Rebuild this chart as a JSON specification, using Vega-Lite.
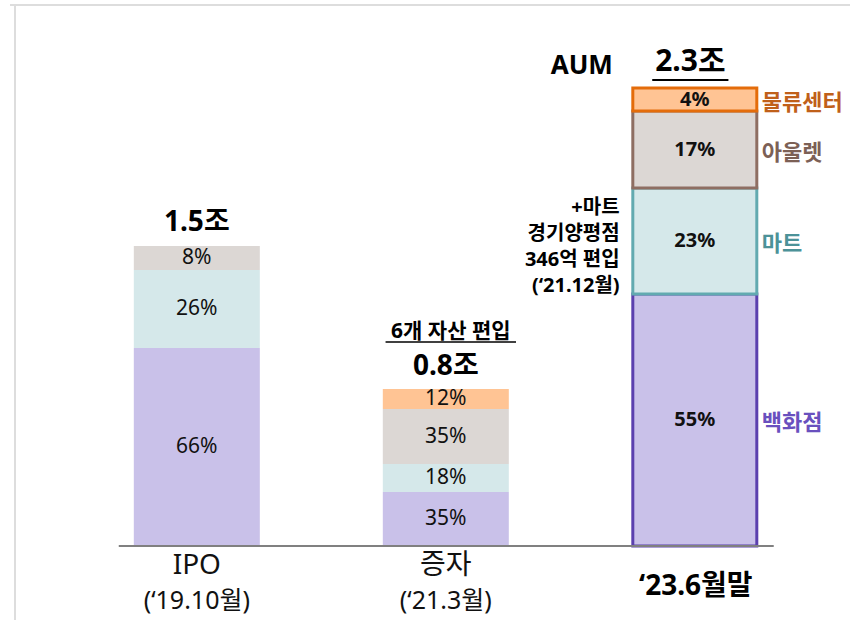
{
  "$schema": "https://vega.github.io/schema/vega-lite/v6.json",
  "width": 840,
  "height": 615,
  "autosize": {"type": "none"},
  "padding": {"left": 10, "top": 5, "right": 0, "bottom": 0},
  "background": "white",
  "config": {"view": {"stroke": null}, "text": {"font": "'Noto Sans', 'Noto Sans CJK KR'", "color": "#000000"}},
  "datasets": {
    "bars": [
      {"idx": 0, "period": "IPO", "type": "백화점", "ord": 1, "pct": "66%", "amt": 0.99},
      {"idx": 0, "period": "IPO", "type": "마트", "ord": 2, "pct": "26%", "amt": 0.39},
      {"idx": 0, "period": "IPO", "type": "아울렛", "ord": 3, "pct": "8%", "amt": 0.12},
      {"idx": 1, "period": "증자", "type": "백화점", "ord": 1, "pct": "35%", "amt": 0.27},
      {"idx": 1, "period": "증자", "type": "마트", "ord": 2, "pct": "18%", "amt": 0.14},
      {"idx": 1, "period": "증자", "type": "아울렛", "ord": 3, "pct": "35%", "amt": 0.275},
      {"idx": 1, "period": "증자", "type": "물류센터", "ord": 4, "pct": "12%", "amt": 0.1},
      {"idx": 2, "period": "23.6월말", "type": "백화점", "ord": 1, "pct": "55%", "amt": 1.26},
      {"idx": 2, "period": "23.6월말", "type": "마트", "ord": 2, "pct": "23%", "amt": 0.53},
      {"idx": 2, "period": "23.6월말", "type": "아울렛", "ord": 3, "pct": "17%", "amt": 0.385},
      {"idx": 2, "period": "23.6월말", "type": "물류센터", "ord": 4, "pct": "4%", "amt": 0.115}
    ]
  },
  "layer": [
    {
      "data": {"values": [{"frame": "top"}]},
      "mark": {"type": "rule", "color": "#dddddd", "strokeWidth": 2},
      "encoding": {
        "y": {"datum": 2.705, "type": "quantitative", "scale": {"domain": [-0.37, 2.705], "nice": false, "zero": false}, "axis": null}
      }
    },
    {
      "data": {"values": [{"frame": "left"}]},
      "mark": {"type": "rule", "color": "#dddddd", "strokeWidth": 2},
      "encoding": {
        "x": {"datum": -0.7302, "type": "quantitative", "scale": {"domain": [-0.7302, 2.6032], "nice": false, "zero": false}, "axis": null}
      }
    },
    {
      "data": {"name": "bars"},
      "transform": [
        {"filter": "datum.idx < 2"},
        {"stack": "amt", "groupby": ["idx"], "sort": [{"field": "ord", "order": "ascending"}], "as": ["y0", "y1"]}
      ],
      "mark": {"type": "bar", "width": 126},
      "encoding": {
        "x": {"field": "idx", "type": "quantitative", "axis": null},
        "y": {"field": "y0", "type": "quantitative", "axis": null},
        "y2": {"field": "y1"},
        "color": {"field": "type", "type": "nominal", "legend": null,
                  "scale": {"domain": ["백화점", "마트", "아울렛", "물류센터"], "range": ["#C9C1E9", "#D5E8EA", "#DCD7D4", "#FFC494"]}}
      }
    },
    {
      "data": {"name": "bars"},
      "transform": [
        {"filter": "datum.idx == 2"},
        {"stack": "amt", "groupby": ["idx"], "sort": [{"field": "ord", "order": "ascending"}], "as": ["y0", "y1"]}
      ],
      "mark": {"type": "bar", "width": 124, "strokeWidth": 3},
      "encoding": {
        "x": {"field": "idx", "type": "quantitative", "axis": null},
        "y": {"field": "y0", "type": "quantitative", "axis": null},
        "y2": {"field": "y1"},
        "color": {"field": "type", "type": "nominal", "legend": null},
        "stroke": {"field": "type", "type": "nominal", "legend": null,
                   "scale": {"domain": ["백화점", "마트", "아울렛", "물류센터"], "range": ["#5B40AE", "#62AAB0", "#8E6E62", "#E46C0A"]}}
      }
    },
    {
      "data": {"name": "bars"},
      "transform": [
        {"filter": "datum.idx < 2"},
        {"stack": "amt", "groupby": ["idx"], "sort": [{"field": "ord", "order": "ascending"}], "as": ["y0", "y1"]},
        {"calculate": "(datum.y0 + datum.y1) / 2", "as": "mid"}
      ],
      "mark": {"type": "text", "fontSize": 21, "baseline": "middle", "color": "#111111"},
      "encoding": {
        "x": {"field": "idx", "type": "quantitative", "axis": null},
        "y": {"field": "mid", "type": "quantitative", "axis": null},
        "text": {"field": "pct"}
      }
    },
    {
      "data": {"name": "bars"},
      "transform": [
        {"filter": "datum.idx == 2"},
        {"stack": "amt", "groupby": ["idx"], "sort": [{"field": "ord", "order": "ascending"}], "as": ["y0", "y1"]},
        {"calculate": "(datum.y0 + datum.y1) / 2", "as": "mid"}
      ],
      "mark": {"type": "text", "fontSize": 20, "fontWeight": "bold", "baseline": "middle", "color": "#111111"},
      "encoding": {
        "x": {"field": "idx", "type": "quantitative", "axis": null},
        "y": {"field": "mid", "type": "quantitative", "axis": null},
        "text": {"field": "pct"}
      }
    },
    {
      "data": {"name": "bars"},
      "transform": [
        {"filter": "datum.idx == 2"},
        {"stack": "amt", "groupby": ["idx"], "sort": [{"field": "ord", "order": "ascending"}], "as": ["y0", "y1"]},
        {"calculate": "(datum.y0 + datum.y1) / 2", "as": "mid"}
      ],
      "mark": {"type": "text", "fontSize": 22, "fontWeight": "bold", "baseline": "middle", "align": "left", "dx": 67, "dy": 3},
      "encoding": {
        "x": {"field": "idx", "type": "quantitative", "axis": null},
        "y": {"field": "mid", "type": "quantitative", "axis": null},
        "text": {"field": "type"},
        "color": {"condition": [
          {"test": "datum.type === '물류센터'", "value": "#C0601A"},
          {"test": "datum.type === '아울렛'", "value": "#7C6055"},
          {"test": "datum.type === '마트'", "value": "#4C9298"}
        ], "value": "#6950BE"}
      }
    },
    {
      "data": {"values": [{"line": "baseline"}]},
      "mark": {"type": "rule", "color": "#808080", "strokeWidth": 2},
      "encoding": {
        "x": {"datum": -0.3135, "type": "quantitative", "axis": null},
        "x2": {"datum": 2.317},
        "y": {"datum": 0, "type": "quantitative", "axis": null}
      }
    },
    {
      "data": {"values": [{"label": "1.5조"}]},
      "mark": {"type": "text", "fontSize": 28, "fontWeight": "bold", "baseline": "middle"},
      "encoding": {
        "x": {"datum": 0, "type": "quantitative", "axis": null},
        "y": {"datum": 1.6175, "type": "quantitative", "axis": null},
        "text": {"field": "label"}
      }
    },
    {
      "data": {"values": [{"label": "0.8조"}]},
      "mark": {"type": "text", "fontSize": 28, "fontWeight": "bold", "baseline": "middle"},
      "encoding": {
        "x": {"datum": 1, "type": "quantitative", "axis": null},
        "y": {"datum": 0.895, "type": "quantitative", "axis": null},
        "text": {"field": "label"}
      }
    },
    {
      "data": {"values": [{"label": "6개 자산 편입"}]},
      "mark": {"type": "text", "fontSize": 21, "fontWeight": "bold", "baseline": "middle"},
      "encoding": {
        "x": {"datum": 1.02, "type": "quantitative", "axis": null},
        "y": {"datum": 1.07, "type": "quantitative", "axis": null},
        "text": {"field": "label"}
      }
    },
    {
      "data": {"values": [{"underline": "6개 자산 편입"}]},
      "mark": {"type": "rule", "color": "#000000", "strokeWidth": 1.5},
      "encoding": {
        "x": {"datum": 0.758, "type": "quantitative", "axis": null},
        "x2": {"datum": 1.282},
        "y": {"datum": 1.02, "type": "quantitative", "axis": null}
      }
    },
    {
      "data": {"values": [{"label": "AUM"}]},
      "mark": {"type": "text", "fontSize": 26, "fontWeight": "bold", "baseline": "middle"},
      "encoding": {
        "x": {"datum": 1.546, "type": "quantitative", "axis": null},
        "y": {"datum": 2.4, "type": "quantitative", "axis": null},
        "text": {"field": "label"}
      }
    },
    {
      "data": {"values": [{"label": "2.3조"}]},
      "mark": {"type": "text", "fontSize": 30, "fontWeight": "bold", "baseline": "middle"},
      "encoding": {
        "x": {"datum": 1.982, "type": "quantitative", "axis": null},
        "y": {"datum": 2.42, "type": "quantitative", "axis": null},
        "text": {"field": "label"}
      }
    },
    {
      "data": {"values": [{"underline": "2.3조"}]},
      "mark": {"type": "rule", "color": "#000000", "strokeWidth": 2},
      "encoding": {
        "x": {"datum": 1.829, "type": "quantitative", "axis": null},
        "x2": {"datum": 2.135},
        "y": {"datum": 2.33, "type": "quantitative", "axis": null}
      }
    },
    {
      "data": {"values": [{"label": "+마트\n경기양평점\n346억 편입\n(‘21.12월)"}]},
      "mark": {"type": "text", "fontSize": 20, "fontWeight": "bold", "baseline": "middle", "align": "right", "lineBreak": "\n", "lineHeight": 26},
      "encoding": {
        "x": {"datum": 1.698, "type": "quantitative", "axis": null},
        "y": {"datum": 1.69, "type": "quantitative", "axis": null},
        "text": {"field": "label"}
      }
    },
    {
      "data": {"values": [{"idx": 0, "name": "IPO", "date": "(‘19.10월)"}, {"idx": 1, "name": "증자", "date": "(‘21.3월)"}]},
      "mark": {"type": "text", "fontSize": 28, "baseline": "middle", "color": "#111111"},
      "encoding": {
        "x": {"field": "idx", "type": "quantitative", "axis": null},
        "y": {"datum": -0.1, "type": "quantitative", "axis": null},
        "text": {"field": "name"}
      }
    },
    {
      "data": {"values": [{"idx": 0, "name": "IPO", "date": "(‘19.10월)"}, {"idx": 1, "name": "증자", "date": "(‘21.3월)"}]},
      "mark": {"type": "text", "fontSize": 25, "baseline": "middle", "color": "#111111"},
      "encoding": {
        "x": {"field": "idx", "type": "quantitative", "axis": null},
        "y": {"datum": -0.275, "type": "quantitative", "axis": null},
        "text": {"field": "date"}
      }
    },
    {
      "data": {"values": [{"label": "‘23.6월말"}]},
      "mark": {"type": "text", "fontSize": 28, "fontWeight": "bold", "baseline": "middle"},
      "encoding": {
        "x": {"datum": 2.004, "type": "quantitative", "axis": null},
        "y": {"datum": -0.205, "type": "quantitative", "axis": null},
        "text": {"field": "label"}
      }
    }
  ]
}
